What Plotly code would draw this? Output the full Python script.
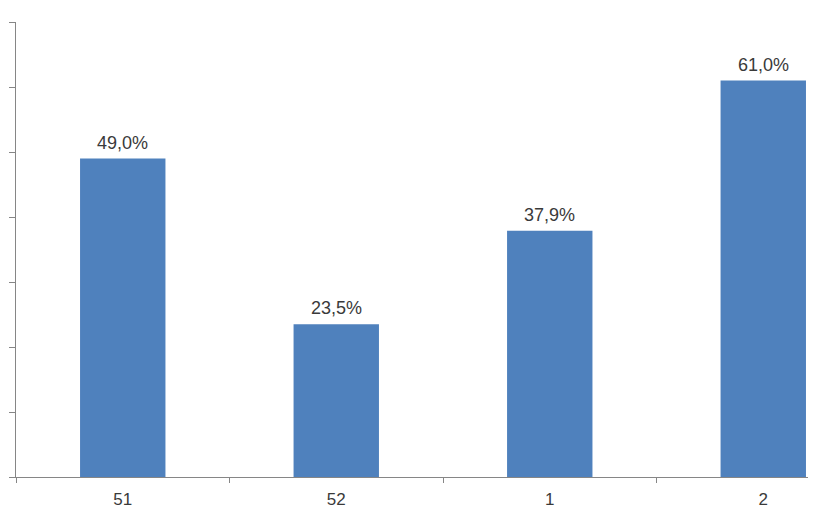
import plotly.graph_objects as go

categories = ["51", "52", "1", "2"]
values = [49.0, 23.5, 37.9, 61.0]
y_ticks = [0, 10, 20, 30, 40, 50, 60, 70]

bar_color = "#4F81BD"
axis_color = "#868686"
text_color = "#3a3a3a"
font_family = "Liberation Sans, Arial, sans-serif"

fig = go.Figure(
    go.Bar(
        x=categories,
        y=values,
        width=0.40,
        marker=dict(color=bar_color, line=dict(width=0)),
        cliponaxis=False,
    )
)

for i, v in enumerate(values):
    fig.add_annotation(
        x=i,
        y=v,
        xref="x",
        yref="y",
        text=f"{v:.1f}".replace(".", ",") + "%",
        showarrow=False,
        yanchor="bottom",
        yshift=4,
        font=dict(family=font_family, size=18, color=text_color),
    )

# page body has an 8px default margin, so the figure is sized to fit the window
fig.update_layout(
    width=808,
    height=502,
    margin=dict(l=8, r=0, t=14, b=33),
    paper_bgcolor="white",
    plot_bgcolor="white",
    showlegend=False,
    font=dict(family=font_family, size=17, color=text_color),
)
fig.update_xaxes(
    type="category",
    range=[-0.5, 3.247],
    automargin=False,
    showline=True,
    linecolor=axis_color,
    linewidth=1,
    ticks="outside",
    tickson="boundaries",
    ticklen=5,
    tickcolor=axis_color,
    ticklabelstandoff=7,
    showgrid=False,
    zeroline=False,
    tickfont=dict(size=17, color=text_color),
)
fig.update_yaxes(
    range=[0, 70],
    tickvals=y_ticks,
    automargin=False,
    showticklabels=False,
    showline=True,
    linecolor=axis_color,
    linewidth=1,
    ticks="outside",
    ticklen=6,
    tickcolor=axis_color,
    showgrid=False,
    zeroline=False,
)

fig.write_html("out.html")
